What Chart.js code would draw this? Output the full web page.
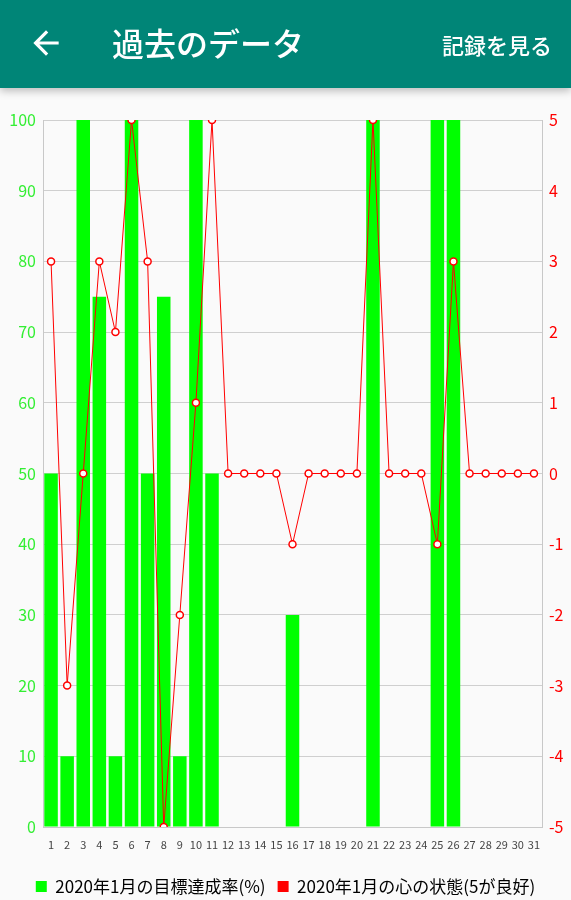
<!DOCTYPE html>
<html>
<head>
<meta charset="utf-8">
<script src="https://cdn.jsdelivr.net/npm/chart.js@4"></script>
<style>
  html, body { margin: 0; padding: 0; }
  body { width: 571px; height: 900px; background: #fafafa; position: relative; overflow: hidden;
         font-family: "Noto Sans CJK JP", "Noto Sans", sans-serif; }
  .bar { position: absolute; left: 0; top: 0; width: 571px; height: 88px; background: #008577;
         box-shadow: 0 3px 8px rgba(0,0,0,0.25); z-index: 2; }
  .back { position: absolute; left: 27px; top: 24px; width: 38px; height: 38px; }
  .title { position: absolute; left: 112px; top: 21px; color: #fff; font-size: 32px; font-weight: 500;
           line-height: 42px; }
  .action { position: absolute; right: 19px; top: 29px; color: #fff; font-size: 22px; font-weight: 500;
            line-height: 30px; }
  .wrap { position: absolute; left: 0; top: 100px; width: 571px; height: 805px; }
</style>
</head>
<body>
<div class="bar">
  <svg class="back" viewBox="0 0 24 24"><path fill="#fff" d="M20 11H7.83l5.59-5.59L12 4l-8 8 8 8 1.41-1.41L7.83 13H20v-2z"/></svg>
  <div class="title">過去のデータ</div>
  <div class="action">記録を見る</div>
</div>
<div class="wrap"><canvas id="c"></canvas></div>
<script>
// --- DATA ---
const days = ['1','2','3','4','5','6','7','8','9','10','11','12','13','14','15','16',
              '17','18','19','20','21','22','23','24','25','26','27','28','29','30','31'];
const achievement = [50, 10, 100, 75, 10, 100, 50, 75, 10, 100, 50, 0, 0, 0, 0, 30,
                     0, 0, 0, 0, 100, 0, 0, 0, 100, 100, 0, 0, 0, 0, 0];
const mood = [3, -3, 0, 3, 2, 5, 3, -5, -2, 1, 5, 0, 0, 0, 0, -1,
              0, 0, 0, 0, 5, 0, 0, 0, -1, 3, 0, 0, 0, 0, 0];
const achievementLabel = '2020年1月の目標達成率(%)';
const moodLabel = '2020年1月の心の状態(5が良好)';

const green = '#00ff00';
const red = '#ff0000';

// --- CHART ---
Chart.defaults.font.family = "'Noto Sans CJK JP', 'Noto Sans', sans-serif";
Chart.defaults.animation = false;

new Chart(document.getElementById('c'), {
    data: {
        labels: days,
        datasets: [
            {
                type: 'line',
                label: moodLabel,
                data: mood,
                yAxisID: 'yR',
                borderColor: red,
                borderWidth: 1,
                backgroundColor: '#ffffff',
                pointRadius: 3.5,
                pointBorderWidth: 1.5,
                pointBorderColor: red,
                pointBackgroundColor: '#ffffff',
                tension: 0,
                order: 0
            },
            {
                type: 'bar',
                label: achievementLabel,
                data: achievement,
                yAxisID: 'yL',
                backgroundColor: green,
                barPercentage: 0.84,
                categoryPercentage: 1,
                order: 1
            }
        ]
    },
    options: {
        responsive: true,
        maintainAspectRatio: false,
        layout: { padding: { top: 20, bottom: 0 } },
        plugins: {
            tooltip: { enabled: false },
            legend: {
                position: 'bottom',
                reverse: true,
                labels: {
                    boxWidth: 11,
                    boxHeight: 11,
                    padding: 12,
                    color: '#222',
                    font: { size: 17 },
                    generateLabels: chart => chart.data.datasets.map((ds, i) => ({
                        text: ds.label,
                        fillStyle: i === 0 ? red : green,
                        strokeStyle: i === 0 ? red : green,
                        lineWidth: 0,
                        datasetIndex: i,
                        hidden: false
                    }))
                }
            }
        },
        scales: {
            x: {
                grid: { display: false },
                border: { color: '#c8c8c8', width: 1 },
                ticks: { color: '#444', font: { size: 11 }, padding: 3, maxRotation: 0, autoSkip: false },
                afterFit: s => { s.height = 39; }
            },
            yL: {
                position: 'left',
                min: 0, max: 100,
                ticks: { stepSize: 10, color: '#33ee33', font: { size: 16 }, padding: 7 },
                grid: { color: '#cfcfcf', drawTicks: false },
                border: { color: '#c8c8c8', width: 1 },
                afterFit: s => { s.width = 43; }
            },
            yR: {
                position: 'right',
                min: -5, max: 5,
                ticks: { stepSize: 1, color: red, font: { size: 16 }, padding: 7 },
                grid: { display: false, drawTicks: false },
                border: { color: '#c8c8c8', width: 1 },
                afterFit: s => { s.width = 29; }
            }
        }
    }
});
</script>
</body>
</html>
